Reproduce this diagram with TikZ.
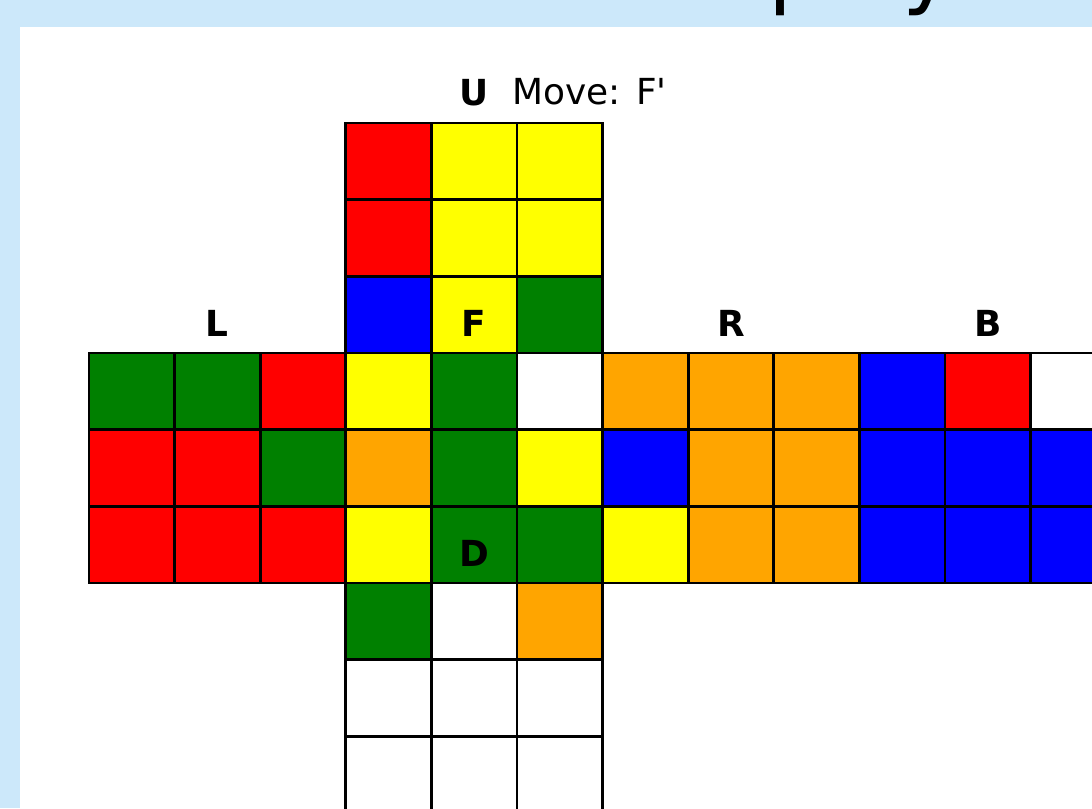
\documentclass[tikz,border=0pt]{standalone}
\usepackage{fontspec}
\newfontfamily\mplfont{DejaVu Sans}
\definecolor{panelblue}{RGB}{204,232,250}
\definecolor{mplgreen}{RGB}{0,128,0}
\definecolor{mplorange}{RGB}{255,165,0}
\definecolor{mplyellow}{RGB}{255,255,0}
\tikzset{
  sticker/.style={draw=black, line width=0.75pt, minimum width=0.856cm, minimum height=0.7667cm, inner sep=0pt, outer sep=0pt},
  facelabel/.style={font=\fontsize{10.2}{12}\mplfont\bfseries, inner sep=0pt}
}
\begin{document}
\begin{tikzpicture}[x=0.01cm, y=-0.01cm]
        % 背景
        \fill[panelblue] (0,0) rectangle (1092,808);
        \useasboundingbox (0,0) rectangle (1092,808);
        \clip (0,0) rectangle (1092,808);
        \fill[white] (20,27) rectangle (1092,808);
        
        % 标题（被截断）
        \node[anchor=base west, inner sep=0pt, font=\fontsize{25}{30}\mplfont] (title) at (768,-3) {play};
        \node[anchor=base west, inner sep=0pt, font=\fontsize{10.2}{12}\mplfont] (move) at (512,104.5) {Move: F'};
        
        % 展开图
        \foreach \f/\fc/\fr/\cols in {
            U/3/0/{red,mplyellow,mplyellow,red,mplyellow,mplyellow,blue,mplyellow,mplgreen},
            L/0/3/{mplgreen,mplgreen,red,red,red,mplgreen,red,red,red},
            F/3/3/{mplyellow,mplgreen,white,mplorange,mplgreen,mplyellow,mplyellow,mplgreen,mplgreen},
            R/6/3/{mplorange,mplorange,mplorange,blue,mplorange,mplorange,mplyellow,mplorange,mplorange},
            B/9/3/{blue,red,white,blue,blue,blue,blue,blue,blue},
            D/3/6/{mplgreen,white,mplorange,white,white,white,white,white,white}} {
            \foreach \c [count=\i from 0] in \cols {
                \pgfmathtruncatemacro\cx{mod(\i,3)}
                \pgfmathtruncatemacro\cy{div(\i,3)}
                \node[sticker, fill=\c] (\f\i) at ({89+(\fc+\cx+0.5)*85.6}, {123+(\fr+\cy+0.5)*76.67}) {};
            }
            \node[facelabel] (lab\f) at ([yshift=0.3cm]\f1.north) {\f};
        }
    \end{tikzpicture}
\end{document}
